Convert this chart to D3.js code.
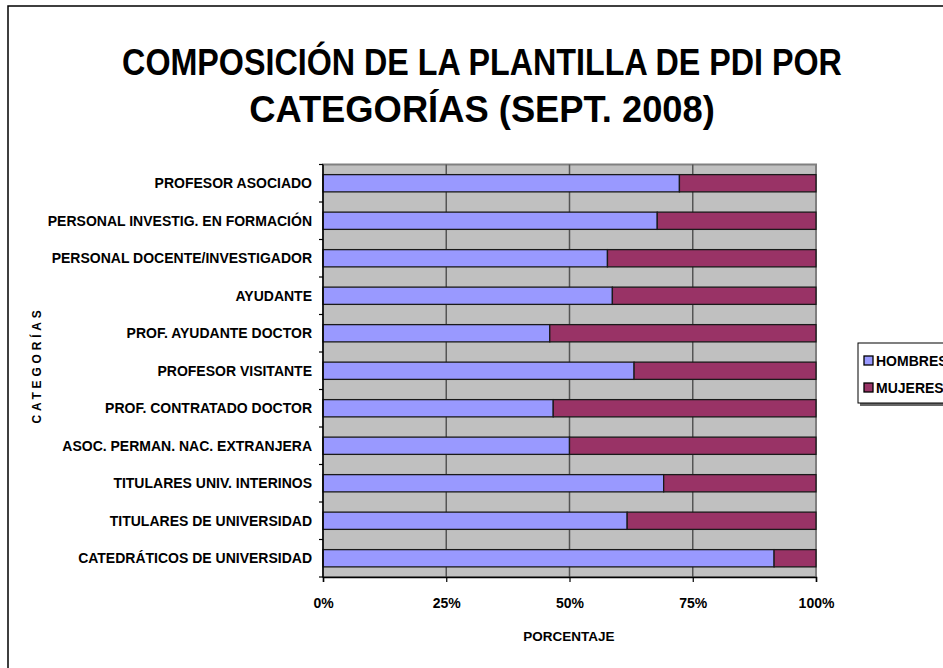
<!DOCTYPE html>
<html>
<head>
<meta charset="utf-8">
<script src="https://cdn.jsdelivr.net/npm/d3@7"></script>
<style>
  body { margin: 0; background: #fff; overflow: hidden; }
  svg text { font-family: "Liberation Sans", Arial, sans-serif; font-weight: bold; fill: #000; }
</style>
</head>
<body>
<svg id="chart" width="943" height="668"></svg>
<script>
// categories top to bottom
const categories = [
  'PROFESOR ASOCIADO',
  'PERSONAL INVESTIG. EN FORMACIÓN',
  'PERSONAL DOCENTE/INVESTIGADOR',
  'AYUDANTE',
  'PROF. AYUDANTE DOCTOR',
  'PROFESOR VISITANTE',
  'PROF. CONTRATADO DOCTOR',
  'ASOC. PERMAN. NAC. EXTRANJERA',
  'TITULARES UNIV. INTERINOS',
  'TITULARES DE UNIVERSIDAD',
  'CATEDRÁTICOS DE UNIVERSIDAD'
];
// percentages
const hombres = [72.3, 67.8, 57.7, 58.7, 46.0, 63.1, 46.7, 50.0, 69.1, 61.7, 91.5];
const mujeres = hombres.map(h => 100 - h);
const seriesNames = ['HOMBRES', 'MUJERES'];
const seriesColors = ['#9999FF', '#993366'];
const xTicks = [0, 25, 50, 75, 100];
const titleLines = ['COMPOSICIÓN DE LA PLANTILLA DE PDI POR', 'CATEGORÍAS (SEPT. 2008)'];

const svg = d3.select('#chart');

// outer chart frame (runs off right/bottom like the original)
svg.append('rect')
  .attr('x', 8).attr('y', 6)
  .attr('width', 960).attr('height', 700)
  .attr('fill', '#fff').attr('stroke', '#000').attr('stroke-width', 1.5);

const margin = { top: 164.5, left: 323, right: 816, bottom: 577 };

const x = d3.scaleLinear().domain([0, 100]).range([margin.left, margin.right]);
const y = d3.scaleBand().domain(categories).range([margin.top, margin.bottom]).paddingInner(0.54).paddingOuter(0.27);
const yBand = d3.scaleBand().domain(categories).range([margin.top, margin.bottom]);

// title - squeezed horizontally like the excel rendering
const titleWidths = [720, 466];
svg.append('g').selectAll('text')
  .data(titleLines)
  .enter().append('text')
  .attr('text-anchor', 'middle')
  .attr('font-size', 37)
  .text(d => d)
  .each(function(d, i) {
    const w = this.getComputedTextLength();
    d3.select(this).attr('transform', `translate(482,${75 + i * 47}) scale(${titleWidths[i] / w},1)`);
  });

// plot background
svg.append('rect')
  .attr('x', margin.left).attr('y', margin.top)
  .attr('width', margin.right - margin.left)
  .attr('height', margin.bottom - margin.top)
  .attr('fill', '#C0C0C0')
  .attr('stroke', '#808080').attr('stroke-width', 2);

// vertical gridlines
svg.append('g').selectAll('line')
  .data(xTicks.slice(1, -1))
  .enter().append('line')
  .attr('x1', d => x(d)).attr('x2', d => x(d))
  .attr('y1', margin.top).attr('y2', margin.bottom)
  .attr('stroke', '#555').attr('stroke-width', 1.5);

// stacked bars
const stacked = categories.map((c, i) => ({ cat: c, vals: [hombres[i], mujeres[i]] }));
const rows = svg.append('g').selectAll('g')
  .data(stacked)
  .enter().append('g');

rows.selectAll('rect')
  .data(d => {
    let acc = 0;
    return d.vals.map((v, k) => {
      const r = { cat: d.cat, x0: acc, x1: acc + v, k };
      acc += v;
      return r;
    });
  })
  .enter().append('rect')
  .attr('x', d => x(d.x0))
  .attr('y', d => y(d.cat))
  .attr('width', d => x(d.x1) - x(d.x0))
  .attr('height', y.bandwidth())
  .attr('fill', d => seriesColors[d.k])
  .attr('stroke', '#1a1a1a').attr('stroke-width', 1.3);

// left axis with ticks on band boundaries
const yAxisG = svg.append('g');
yAxisG.append('line')
  .attr('x1', margin.left).attr('x2', margin.left)
  .attr('y1', margin.top).attr('y2', margin.bottom)
  .attr('stroke', '#000').attr('stroke-width', 1.5);
yAxisG.selectAll('.tk')
  .data(categories.concat(['__end']))
  .enter().append('line')
  .attr('x1', margin.left - 4).attr('x2', margin.left)
  .attr('y1', d => d === '__end' ? margin.bottom : yBand(d))
  .attr('y2', d => d === '__end' ? margin.bottom : yBand(d))
  .attr('stroke', '#000').attr('stroke-width', 1.2);
yAxisG.selectAll('text')
  .data(categories)
  .enter().append('text')
  .attr('x', 312)
  .attr('y', d => yBand(d) + yBand.bandwidth() / 2 + 5)
  .attr('text-anchor', 'end')
  .attr('font-size', 14)
  .text(d => d);

// bottom axis
const xAxis = d3.axisBottom(x)
  .tickValues(xTicks)
  .tickSize(5)
  .tickFormat(d => d + '%');
const xAxisG = svg.append('g')
  .attr('transform', `translate(0,${margin.bottom})`)
  .call(xAxis);
xAxisG.select('.domain').attr('stroke', '#000').attr('stroke-width', 1.5);
xAxisG.selectAll('.tick line').attr('stroke', '#000').attr('stroke-width', 1.2);
xAxisG.selectAll('.tick text')
  .attr('y', 21)
  .attr('font-size', 14)
  .style('font-family', '"Liberation Sans", Arial, sans-serif')
  .style('font-weight', 'bold');

// axis titles
svg.append('text')
  .attr('x', 569).attr('y', 641)
  .attr('text-anchor', 'middle')
  .attr('font-size', 13.5)
  .text('PORCENTAJE');

svg.append('text')
  .attr('transform', 'translate(41,365) rotate(-90)')
  .attr('text-anchor', 'middle')
  .attr('font-size', 12)
  .attr('letter-spacing', 3.8)
  .text('CATEGORÍAS');

// legend (runs off the right edge as in the original)
const legend = svg.append('g').attr('transform', 'translate(858,343)');
legend.append('rect')
  .attr('x', 2).attr('y', 2).attr('width', 100).attr('height', 61)
  .attr('fill', '#666');
legend.append('rect')
  .attr('width', 100).attr('height', 60)
  .attr('fill', '#fff').attr('stroke', '#000').attr('stroke-width', 1);
const items = legend.selectAll('.item')
  .data(seriesNames)
  .enter().append('g')
  .attr('transform', (d, i) => `translate(6,${13 + i * 27})`);
items.append('rect')
  .attr('width', 9).attr('height', 9)
  .attr('fill', (d, i) => seriesColors[i])
  .attr('stroke', '#000').attr('stroke-width', 1.3);
items.append('text')
  .attr('x', 12).attr('y', 10)
  .attr('font-size', 14)
  .text(d => d);
</script>
</body>
</html>
